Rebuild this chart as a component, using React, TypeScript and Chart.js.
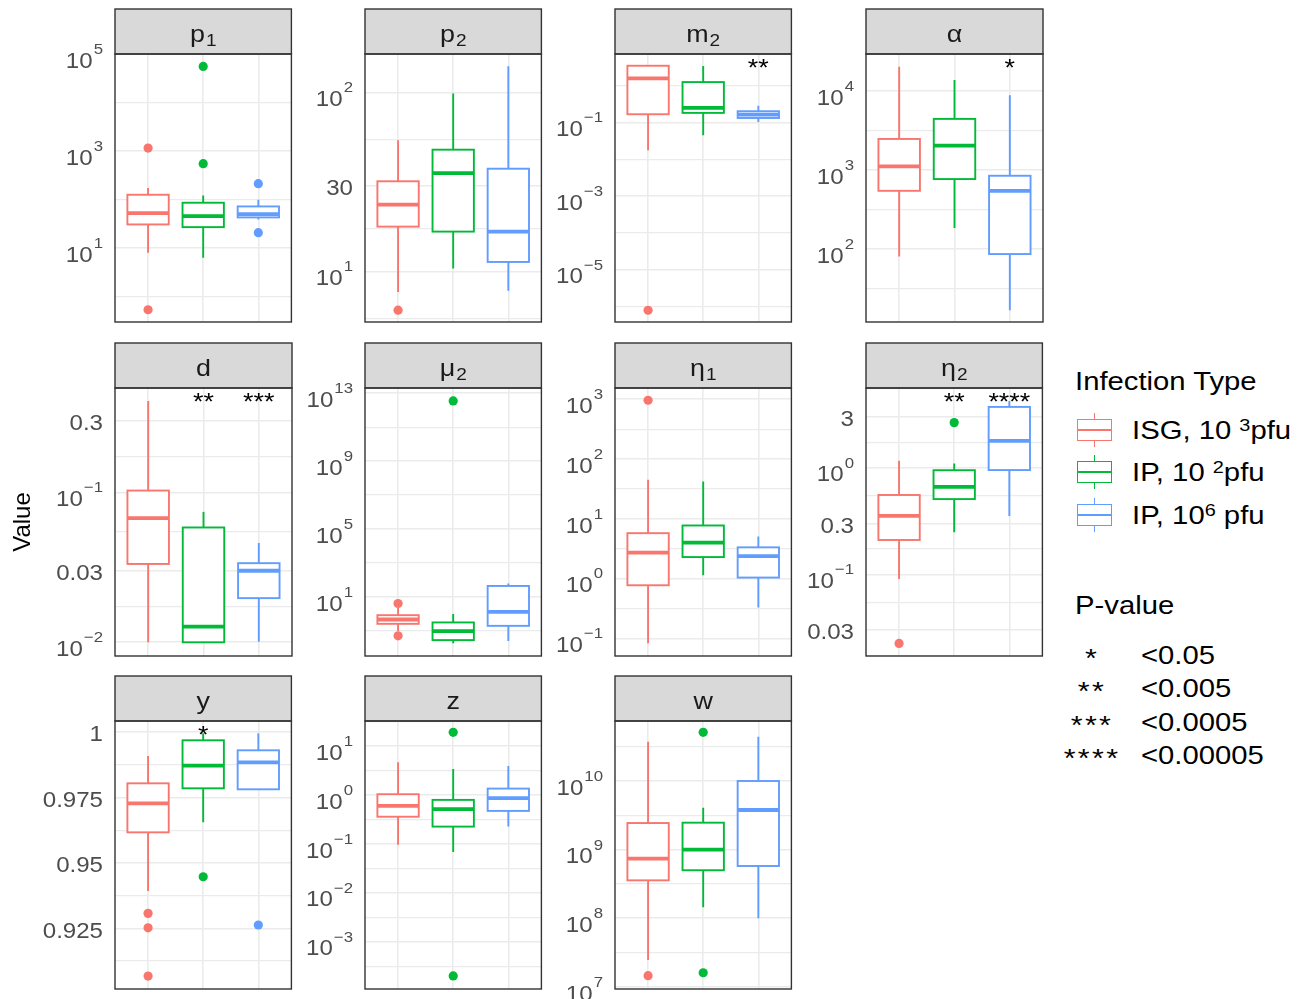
import React, { useEffect, useRef } from 'react';
import { Chart, registerables } from 'chart.js';
Chart.register(...registerables);

const FONT = '"Liberation Sans", Arial, Helvetica, sans-serif';
const COLORS = ['#F8766D', '#00BA38', '#619CFF'];
const GROUP_LABELS = [['ISG, 10 ', '3', 'pfu'], ['IP, 10 ', '2', 'pfu'], ['IP, 10', '6', ' pfu']];
const PVAL_STARS = ['*', '**', '***', '****'];
const PVAL_LABELS = ['<0.05', '<0.005', '<0.0005', '<0.00005'];
const FACETS = ['p_1', 'p_2', 'm_2', 'α', 'd', 'μ_2', 'η_1', 'η_2', 'y', 'z', 'w'];

// box stats per group: [lower whisker, Q1, median, Q3, upper whisker]
const P1_BOX = [[8.0, 30.8, 52.7, 126, 173], [6.34, 27.1, 45.7, 86.3, 122], [39.1, 43.0, 50.4, 72.4, 99.5]];
const P1_OUT = [[1153, 0.537], [550, 55700], [213, 20.8]];
const P1_LIM = [0.308, 100500];
const P1_MAJOR = [10, 1000, 100000];
const P1_MINOR = [1, 100, 10000];
const P1_STARS = ['', '', ''];

const P2_BOX = [[7.69, 17.8, 23.6, 31.9, 54.1], [10.4, 16.7, 35.4, 47.9, 98.6], [7.8, 11.3, 16.7, 37.5, 140]];
const P2_OUT = [[6.08], [], []];
const P2_LIM = [5.22, 164];
const P2_MAJOR = [10, 30, 100];
const P2_MINOR = [5.477, 17.32, 54.77];
const P2_STARS = ['', '', ''];

const M2_BOX = [[0.0176, 0.168, 1.585, 3.49, 3.49], [0.0451, 0.183, 0.25, 1.256, 3.43], [0.104, 0.133, 0.165, 0.203, 0.284]];
const M2_OUT = [[7.96e-7], [], []];
const M2_LIM = [3.82e-7, 7.28];
const M2_MAJOR = [1e-5, 1e-3, 1e-1];
const M2_MINOR = [1e-6, 1e-4, 1e-2, 1];
const M2_STARS = ['', '', '**'];

const ALPHA_BOX = [[80.5, 546, 1112, 2477, 20370], [185, 769, 2037, 4446, 13800], [16.8, 86.3, 546, 847, 8892]];
const ALPHA_OUT = [[], [], []];
const ALPHA_LIM = [11.9, 29510];
const ALPHA_MAJOR = [100, 1000, 10000];
const ALPHA_MINOR = [31.62, 316.2, 3162];
const ALPHA_STARS = ['', '', '*'];

const D_BOX = [[0.01, 0.0333, 0.0673, 0.1028, 0.407], [0.01, 0.01, 0.0127, 0.0583, 0.0741], [0.0101, 0.0197, 0.03, 0.0337, 0.0459]];
const D_OUT = [[], [], []];
const D_LIM = [0.0081, 0.4966];
const D_MAJOR = [0.01, 0.03, 0.1, 0.3];
const D_MINOR = [0.01732, 0.05477, 0.1732];
const D_STARS = ['', '**', '***'];

const MU2_BOX = [[0.0968, 0.26, 0.468, 0.841, 2.26], [0.0184, 0.0286, 0.0968, 0.314, 1.0], [0.0251, 0.198, 1.315, 44.3, 61.2]];
const MU2_OUT = [[4.09, 0.0513], [3.55e12], []];
const MU2_LIM = [0.00331, 2.04e13];
const MU2_MAJOR = [10, 1e5, 1e9, 1e13];
const MU2_MINOR = [0.1, 1000, 1e7, 1e11];
const MU2_STARS = ['', '', ''];

const ETA1_BOX = [[0.0826, 0.773, 2.71, 5.75, 45.2], [1.135, 2.29, 3.98, 7.73, 41.9], [0.329, 1.04, 2.38, 3.33, 5.07]];
const ETA1_OUT = [[962], [], []];
const ETA1_LIM = [0.0507, 1542];
const ETA1_MAJOR = [0.1, 1, 10, 100, 1000];
const ETA1_MINOR = [0.3162, 3.162, 31.62, 316.2];
const ETA1_STARS = ['', '', ''];

const ETA2_BOX = [[0.0904, 0.21, 0.353, 0.555, 1.164], [0.248, 0.508, 0.662, 0.948, 1.094], [0.353, 0.951, 1.786, 3.72, 4.23]];
const ETA2_OUT = [[0.0225], [2.65], []];
const ETA2_LIM = [0.01714, 5.598];
const ETA2_MAJOR = [0.03, 0.1, 0.3, 1, 3];
const ETA2_MINOR = [0.01732, 0.05477, 0.1732, 0.5477, 1.732, 5.477];
const ETA2_STARS = ['', '**', '****'];

const Y_BOX = [[0.93927, 0.96173, 0.97283, 0.98048, 0.99093], [0.96556, 0.97857, 0.98722, 0.99694, 0.99962], [0.97819, 0.97819, 0.98852, 0.99311, 0.9996]];
const Y_OUT = [[0.93073, 0.92522, 0.90674], [0.94474], [0.92628]];
const Y_LIM = [0.9018, 1.00432];
const Y_MAJOR = [0.925, 0.95, 0.975, 1];
const Y_MINOR = [0.9125, 0.9375, 0.9625, 0.9875];
const Y_STARS = ['', '*', ''];

const Z_BOX = [[0.0955, 0.358, 0.596, 1.033, 4.65], [0.0684, 0.225, 0.511, 0.791, 3.39], [0.225, 0.471, 0.857, 1.346, 3.9]];
const Z_OUT = [[], [19.05, 0.0002], []];
const Z_LIM = [1.079e-4, 32.4];
const Z_MAJOR = [1e-3, 1e-2, 0.1, 1, 10];
const Z_MINOR = [3.162e-4, 3.162e-3, 0.03162, 0.3162, 3.162, 31.62];
const Z_STARS = ['', '', ''];

const W_BOX = [[2.47e7, 3.57e8, 7.38e8, 2.44e9, 3.73e10], [1.45e8, 5.01e8, 1e9, 2.47e9, 4.08e9], [1e8, 5.78e8, 3.78e9, 1e10, 4.41e10]];
const W_OUT = [[1.46e7], [5.12e10, 1.61e7], []];
const W_LIM = [9.33e6, 7.48e10];
const W_MAJOR = [1e7, 1e8, 1e9, 1e10];
const W_MINOR = [3.162e7, 3.162e8, 3.162e9, 3.162e10];
const W_STARS = ['', '', ''];

const PANELS = [
  { title: FACETS[0], box: P1_BOX, out: P1_OUT, lim: P1_LIM, major: P1_MAJOR, minor: P1_MINOR, stars: P1_STARS, log: true },
  { title: FACETS[1], box: P2_BOX, out: P2_OUT, lim: P2_LIM, major: P2_MAJOR, minor: P2_MINOR, stars: P2_STARS, log: true },
  { title: FACETS[2], box: M2_BOX, out: M2_OUT, lim: M2_LIM, major: M2_MAJOR, minor: M2_MINOR, stars: M2_STARS, log: true },
  { title: FACETS[3], box: ALPHA_BOX, out: ALPHA_OUT, lim: ALPHA_LIM, major: ALPHA_MAJOR, minor: ALPHA_MINOR, stars: ALPHA_STARS, log: true },
  { title: FACETS[4], box: D_BOX, out: D_OUT, lim: D_LIM, major: D_MAJOR, minor: D_MINOR, stars: D_STARS, log: true },
  { title: FACETS[5], box: MU2_BOX, out: MU2_OUT, lim: MU2_LIM, major: MU2_MAJOR, minor: MU2_MINOR, stars: MU2_STARS, log: true },
  { title: FACETS[6], box: ETA1_BOX, out: ETA1_OUT, lim: ETA1_LIM, major: ETA1_MAJOR, minor: ETA1_MINOR, stars: ETA1_STARS, log: true },
  { title: FACETS[7], box: ETA2_BOX, out: ETA2_OUT, lim: ETA2_LIM, major: ETA2_MAJOR, minor: ETA2_MINOR, stars: ETA2_STARS, log: true },
  { title: FACETS[8], box: Y_BOX, out: Y_OUT, lim: Y_LIM, major: Y_MAJOR, minor: Y_MINOR, stars: Y_STARS, log: false },
  { title: FACETS[9], box: Z_BOX, out: Z_OUT, lim: Z_LIM, major: Z_MAJOR, minor: Z_MINOR, stars: Z_STARS, log: true },
  { title: FACETS[10], box: W_BOX, out: W_OUT, lim: W_LIM, major: W_MAJOR, minor: W_MINOR, stars: W_STARS, log: true },
];

// layout
const COL_LEFT = [115, 365, 615, 866];
const ROW_TOP = [9, 343, 676];
const PANEL_W = 177;
const STRIP_H = 45;
const PLOT_H = 268;
const LBL = 90;
const BOT = 18;
const CAN_W = LBL + PANEL_W + 4;
const CAN_H = 2 + STRIP_H + PLOT_H + BOT;

const SX = 1.12;
const TICK = 21.5;
const SUP = 15;
const GRAY = '#4D4D4D';

function textW(ctx: CanvasRenderingContext2D, s: string, size: number) {
  ctx.font = `${size}px ${FONT}`;
  return ctx.measureText(s).width * SX;
}
function drawT(ctx: CanvasRenderingContext2D, s: string, x: number, y: number, size: number, color: string) {
  ctx.save();
  ctx.font = `${size}px ${FONT}`;
  ctx.fillStyle = color;
  ctx.textAlign = 'left';
  ctx.textBaseline = 'alphabetic';
  ctx.translate(x, y);
  ctx.scale(SX, 1);
  ctx.fillText(s, 0, 0);
  ctx.restore();
}
function fmt(v: number, log: boolean) {
  if (!log) return { base: String(v), sup: '' };
  const e = Math.log10(v);
  const r = Math.round(e);
  if (Math.abs(e - r) < 1e-6) return { base: '10', sup: (r < 0 ? '\u2212' : '') + Math.abs(r) };
  return { base: String(v), sup: '' };
}

function Panel({ spec, left, top }: any) {
  const ref = useRef<HTMLCanvasElement>(null);
  useEffect(() => {
    const [ymin, ymax] = spec.lim;
    const facetPlugin = {
      id: 'facet',
      beforeDatasetsDraw(chart: any) {
        const ctx = chart.ctx;
        const xs = chart.scales.x;
        const ys = chart.scales.y;
        spec.box.forEach((b: number[], i: number) => {
          const x = xs.getPixelForValue(i);
          const hw = xs.getPixelForValue(i + 0.375) - x;
          const [lo, q1, med, q3, hi] = b.map((v) => ys.getPixelForValue(v));
          ctx.save();
          ctx.strokeStyle = COLORS[i];
          ctx.lineWidth = 1.9;
          ctx.beginPath();
          ctx.moveTo(x, hi); ctx.lineTo(x, q3);
          ctx.moveTo(x, q1); ctx.lineTo(x, lo);
          ctx.stroke();
          ctx.fillStyle = '#FFFFFF';
          ctx.fillRect(x - hw, q3, 2 * hw, q1 - q3);
          ctx.strokeRect(x - hw, q3, 2 * hw, q1 - q3);
          ctx.lineWidth = 3.8;
          ctx.beginPath();
          ctx.moveTo(x - hw, med); ctx.lineTo(x + hw, med);
          ctx.stroke();
          ctx.restore();
        });
      },
      afterDraw(chart: any) {
        const ctx = chart.ctx;
        const ca = chart.chartArea;
        const xs = chart.scales.x;
        const ys = chart.scales.y;
        ctx.save();
        // strip
        ctx.fillStyle = '#D9D9D9';
        ctx.fillRect(ca.left, 2, ca.right - ca.left, ca.top - 2);
        ctx.strokeStyle = '#333333';
        ctx.lineWidth = 1.4;
        ctx.strokeRect(ca.left, 2, ca.right - ca.left, ca.top - 2);
        ctx.strokeRect(ca.left, ca.top, ca.right - ca.left, ca.bottom - ca.top);
        const [base, sub] = spec.title.split('_');
        const wb = textW(ctx, base, 24);
        const ws = sub ? textW(ctx, sub, 17) + 1 : 0;
        const tx = (ca.left + ca.right) / 2 - (wb + ws) / 2;
        const by = ca.top - 12;
        drawT(ctx, base, tx, by, 24, '#1A1A1A');
        if (sub) drawT(ctx, sub, tx + wb + 1, by + 4, 17, '#1A1A1A');
        // tick labels
        spec.major.forEach((v: number) => {
          if (v < ymin || v > ymax) return;
          const py = ys.getPixelForValue(v);
          const lab = fmt(v, spec.log);
          const right = ca.left - 12;
          if (lab.sup) {
            const w1 = textW(ctx, lab.base, TICK);
            const w2 = textW(ctx, lab.sup, SUP);
            const x0 = right - w1 - w2 - 1;
            drawT(ctx, lab.base, x0, py + 6 + 0.358 * TICK, TICK, GRAY);
            drawT(ctx, lab.sup, x0 + w1 + 1, py - 5.5 + 0.358 * SUP, SUP, GRAY);
          } else {
            const w1 = textW(ctx, lab.base, TICK);
            drawT(ctx, lab.base, right - w1, py + 1.5 + 0.358 * TICK, TICK, GRAY);
          }
        });
        // significance stars
        spec.stars.forEach((s: string, i: number) => {
          if (!s) return;
          const x = xs.getPixelForValue(i);
          const w = textW(ctx, s, 24);
          drawT(ctx, s, x - w / 2, ca.top + 22, 24, '#000000');
        });
        ctx.restore();
      },
    };
    const allTicks = [
      ...spec.major.map((v: number) => ({ value: v, major: true })),
      ...spec.minor.map((v: number) => ({ value: v, major: false })),
    ].filter((t) => t.value >= ymin && t.value <= ymax);
    const chart = new Chart(ref.current as HTMLCanvasElement, {
      type: 'scatter',
      data: {
        datasets: spec.out.map((vals: number[], i: number) => ({
          data: vals.map((v) => ({ x: i, y: v })),
          pointBackgroundColor: COLORS[i],
          pointBorderWidth: 0,
          pointRadius: 4.6,
          pointHoverRadius: 4.6,
        })),
      },
      options: {
        animation: false,
        responsive: false,
        events: [],
        layout: { padding: { left: LBL, top: 2 + STRIP_H, right: 4, bottom: BOT } },
        plugins: { legend: { display: false }, tooltip: { enabled: false } },
        scales: {
          x: {
            type: 'linear',
            min: -0.6,
            max: 2.6,
            afterBuildTicks: (s: any) => { s.ticks = [0, 1, 2].map((v) => ({ value: v })); },
            afterFit: (s: any) => { s.height = 0; },
            ticks: { display: false },
            grid: { color: '#EBEBEB', lineWidth: 1.6, drawTicks: false },
            border: { display: false },
          },
          y: {
            type: spec.log ? 'logarithmic' : 'linear',
            min: ymin,
            max: ymax,
            afterBuildTicks: (s: any) => { s.ticks = allTicks.map((t) => ({ ...t })); },
            afterFit: (s: any) => { s.width = 0; },
            ticks: { display: false },
            grid: {
              color: '#EBEBEB',
              lineWidth: (c: any) => (c.tick && c.tick.major ? 1.6 : 1.2),
              drawTicks: false,
            },
            border: { display: false },
          },
        },
      } as any,
      plugins: [facetPlugin],
    });
    return () => chart.destroy();
  }, []);
  return (
    <canvas
      ref={ref}
      width={CAN_W}
      height={CAN_H}
      style={{ position: 'absolute', left, top, width: CAN_W, height: CAN_H }}
    />
  );
}

function LegendIcon({ color, y }: any) {
  return (
    <div style={{ position: 'absolute', left: 1077, top: y - 17, width: 35, height: 34 }}>
      <div style={{ position: 'absolute', left: 16.6, top: 0, width: 1.8, height: 34, background: color }} />
      <div style={{ position: 'absolute', left: 0, top: 6, width: 35, height: 22, boxSizing: 'border-box', border: `1.8px solid ${color}`, background: '#fff' }} />
      <div style={{ position: 'absolute', left: 0, top: 16.1, width: 35, height: 1.8, background: color }} />
    </div>
  );
}

const legText = (size: number): React.CSSProperties => ({
  position: 'absolute',
  font: `${size}px ${FONT}`,
  lineHeight: `${size}px`,
  whiteSpace: 'nowrap',
  transform: 'scaleX(1.17)',
  transformOrigin: 'left center',
  color: '#000',
});

export default function App() {
  const rowsY = [430, 472, 515];
  const pRowsY = [655, 688, 722, 755];
  return (
    <div style={{ position: 'absolute', left: 0, top: 0, width: 1308, height: 999, background: '#fff', overflow: 'hidden' }}>
      {PANELS.map((p, k) => {
        const row = Math.floor(k / 4);
        const col = k % 4;
        return <Panel key={k} spec={p} left={COL_LEFT[col] - LBL} top={ROW_TOP[row] - 2} />;
      })}
      <div
        style={{
          position: 'absolute', left: 22 - 60, top: 522 - 12, width: 120, textAlign: 'center',
          font: `24px ${FONT}`, lineHeight: '24px', transform: 'rotate(-90deg)', transformOrigin: 'center', color: '#000',
        }}
      >
        Value
      </div>
      <div style={{ ...legText(25), left: 1075, top: 381 - 12.3 }}>Infection Type</div>
      {GROUP_LABELS.map((g, i) => (
        <React.Fragment key={i}>
          <LegendIcon color={COLORS[i]} y={rowsY[i]} />
          <div style={{ ...legText(25), left: 1132, top: rowsY[i] - 12.3 }}>
            {g[0]}
            <span style={{ fontSize: 17, position: 'relative', top: -8 }}>{g[1]}</span>
            {g[2]}
          </div>
        </React.Fragment>
      ))}
      <div style={{ ...legText(25), left: 1075, top: 605 - 12.3 }}>P-value</div>
      {PVAL_STARS.map((s, i) => (
        <React.Fragment key={i}>
          <div style={{ ...legText(26), left: 1057, width: 70, textAlign: 'center', top: pRowsY[i] - 10, transformOrigin: 'center', letterSpacing: 2 }}>{s}</div>
          <div style={{ ...legText(25), left: 1141, top: pRowsY[i] - 12.3 }}>{PVAL_LABELS[i]}</div>
        </React.Fragment>
      ))}
    </div>
  );
}
